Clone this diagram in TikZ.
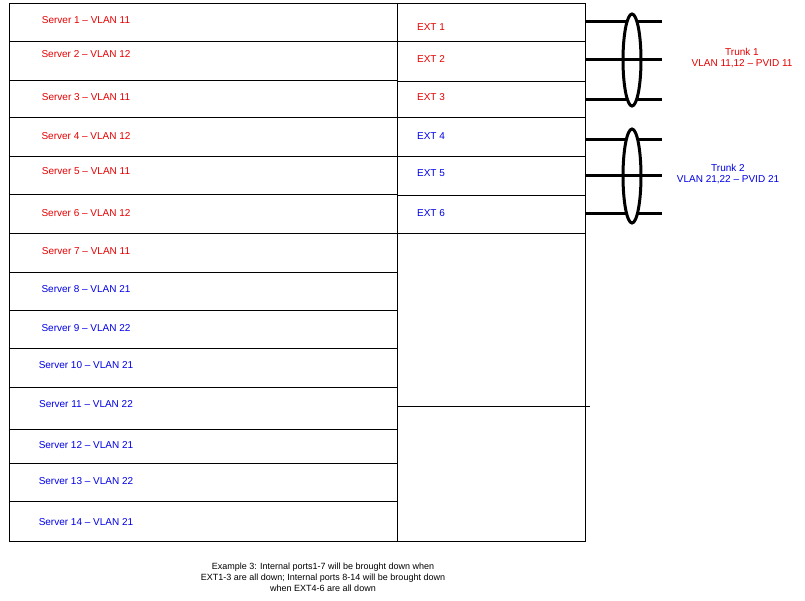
\documentclass[tikz,border=0pt]{standalone}
\usepackage{fontspec}
\setmainfont{Liberation Sans}
\usetikzlibrary{positioning}
\definecolor{srvred}{RGB}{230,0,0}
\definecolor{srvblue}{RGB}{0,0,230}
\begin{document}
\begin{tikzpicture}[x=1pt,y=-1pt,line width=0.6pt,
  lbl/.style={font=\fontsize{10}{11}\selectfont},
  redlbl/.style={lbl,text=srvred},
  bluelbl/.style={lbl,text=srvblue},
  trunk/.style={line width=3pt}]
	% Rahmen
	\useasboundingbox (0,0) rectangle (805,600);
	\draw (9,3) rectangle (397,541);
	\draw (397,3) rectangle (585,541);
	% Zeilen links
	\foreach \y in {41,80,117,156,194,233,272,310,348,387,429,463,501}
		\draw (9,\y) -- (397,\y);
	% Zeilen rechts
	\foreach \y in {41,81,117,156,195,233}
		\draw (397,\y) -- (585,\y);
	\draw (397,406) -- (590,406);
	% Server
	\foreach \n/\v/\y/\c in {1/11/20/redlbl,2/12/54/redlbl,3/11/97/redlbl,4/12/136/redlbl,
		5/11/171/redlbl,6/12/213/redlbl,7/11/251/redlbl,8/21/289/bluelbl,9/22/328/bluelbl,
		10/21/365/bluelbl,11/22/404/bluelbl,12/21/445/bluelbl,13/22/481/bluelbl,14/21/522/bluelbl}
		\node[\c] (srv\n) at (86,\y) {Server \n\ -- VLAN \v};
	% EXT
	\foreach \n/\y/\c in {1/27/redlbl,2/59/redlbl,3/97/redlbl,4/136/bluelbl,5/173/bluelbl,6/213/bluelbl}
		\node[\c] (ext\n) at (431,\y) {EXT \n};
	% Trunks
	\foreach \y in {21,59,99,139,175,213}
		\draw[trunk] (585,\y) -- (662,\y);
	\draw[trunk,fill=white] (632,60) ellipse (9 and 46);
	\draw[trunk,fill=white] (632,176) ellipse (9 and 47);
	\foreach \y in {59,175}
		\draw[trunk] (623,\y) -- (641,\y);
	\node[redlbl,align=center] (trunk1) at (742,58) {Trunk 1\\VLAN 11,12 -- PVID 11};
	\node[bluelbl,align=center] (trunk2) at (728,174) {Trunk 2\\VLAN 21,22 -- PVID 21};
	% Beschreibung
	\node[lbl,align=center,font=\fontsize{9}{11}\selectfont] (note) at (323,577)
		{Example 3: Internal ports1-7 will be brought down when\\
		 EXT1-3 are all down; Internal ports 8-14 will be brought down\\
		 when EXT4-6 are all down};
\end{tikzpicture}
\end{document}
